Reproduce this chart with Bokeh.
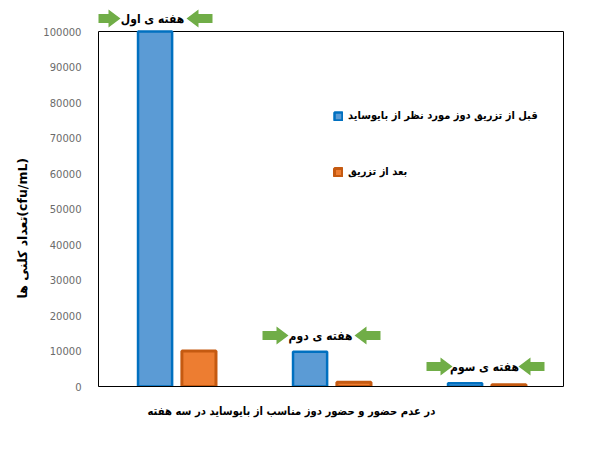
from bokeh.plotting import figure
from bokeh.models import (Range1d, FixedTicker, NumeralTickFormatter, Label, Title,
                          PolyAnnotation, Legend, LegendItem, ColumnDataSource)
from bokeh.transform import dodge
from bokeh.embed import file_html
from bokeh.resources import INLINE

# ---------------- data ----------------
weeks = ["هفته ی اول", "هفته ی دوم", "هفته ی سوم"]
before = [100000, 9800, 900]
after = [10000, 1200, 500]
series_names = ["قبل از تزریق دوز مورد نظر از بایوساید", "بعد از تزریق"]
y_ticks = [0, 10000, 20000, 30000, 40000, 50000, 60000, 70000, 80000, 90000, 100000]
y_title = "تعداد کلنی ها(cfu/mL)"
x_title = "در عدم حضور و حضور دوز مناسب از بایوساید در سه هفته"

# ---------------- layout ----------------
W, H = 605, 458
BOX_LEFT, BOX_RIGHT, BOX_TOP, BOX_BOTTOM = 98, 563, 31, 386   # chart box in pixels
FRAME_TOP, FRAME_RIGHT = 4, 580                               # frame extended for outside labels
X_MAX = len(weeks)
Y_MAX = y_ticks[-1]
PX_PER_X = (BOX_RIGHT - BOX_LEFT) / X_MAX
PX_PER_Y = (BOX_BOTTOM - BOX_TOP) / Y_MAX

def to_data(px, py):
    return (px - BOX_LEFT) / PX_PER_X, (BOX_BOTTOM - py) / PX_PER_Y

FONT = "DejaVu Sans"
FA_FONT = "DejaVu Sans Condensed"
GREEN = "#70ad47"

centers = [i + 0.5 for i in range(len(weeks))]
src = ColumnDataSource(dict(x=centers, before=before, after=after, week=weeks))

x_end = to_data(FRAME_RIGHT, 0)[0]
y_end = to_data(0, FRAME_TOP)[1]

p = figure(width=W, height=H, output_backend="svg", toolbar_location=None,
           x_range=Range1d(0, x_end), y_range=Range1d(0, y_end),
           min_border_left=BOX_LEFT, min_border_right=W - FRAME_RIGHT,
           min_border_top=FRAME_TOP, min_border_bottom=H - BOX_BOTTOM)

p.background_fill_color = "white"
p.border_fill_color = "white"
p.outline_line_color = None
p.xgrid.visible = False
p.ygrid.visible = False

# chart box
p.quad(left=0, right=X_MAX, bottom=0, top=Y_MAX, fill_color=None,
       line_color="black", line_width=1)

r1 = p.vbar(x=dodge("x", -0.135, range=p.x_range), top="before", width=0.22,
            source=src, fill_color="#5b9bd5", line_color="#0070c0", line_width=2.5)
r2 = p.vbar(x=dodge("x", 0.148, range=p.x_range), top="after", width=0.22,
            source=src, fill_color="#ed7d31", line_color="#c55a11", line_width=3)

# axes
p.yaxis.ticker = FixedTicker(ticks=y_ticks)
p.yaxis.bounds = (0, Y_MAX)
p.yaxis.formatter = NumeralTickFormatter(format="0")
p.yaxis.major_tick_line_color = None
p.yaxis.minor_tick_line_color = None
p.yaxis.axis_line_color = "black"
p.yaxis.major_label_standoff = 11
p.yaxis.major_label_text_font = FONT
p.yaxis.major_label_text_font_size = "10px"
p.yaxis.major_label_text_color = "#6b6b6b"

p.xaxis.ticker = FixedTicker(ticks=[])
p.xaxis.bounds = (0, X_MAX)
p.xaxis.major_tick_line_color = None
p.xaxis.minor_tick_line_color = None
p.xaxis.major_label_text_font_size = "0px"
p.xaxis.major_label_standoff = 0
p.xaxis.axis_line_color = "black"

# axis titles
p.add_layout(Title(text=y_title, align="left", offset=BOX_BOTTOM - 298, standoff=22,
                   text_font=FONT, text_font_style="bold", text_font_size="12.5px",
                   text_color="black"), "left")
p.add_layout(Title(text=x_title, align="left", offset=147 - BOX_LEFT, standoff=33,
                   text_font=FA_FONT, text_font_style="bold", text_font_size="11.2px",
                   text_color="black"), "below")

# week labels with green arrows
week_label_px = [(152, 18), (320, 335), (484, 366)]

def arrow(tail_px, cy, direction):
    pts = [(0, -4.5), (14, -4.5), (14, -9), (26, 0), (14, 9), (14, 4.5), (0, 4.5)]
    xs, ys = [], []
    for dx, dy in pts:
        dxp, dyp = to_data(tail_px + direction * dx, cy - dy)
        xs.append(dxp)
        ys.append(dyp)
    return PolyAnnotation(xs=xs, ys=ys, fill_color=GREEN, fill_alpha=1.0,
                          line_color=None, xs_units="data", ys_units="data")

for name, (cx, cy) in zip(weeks, week_label_px):
    lx, ly = to_data(cx, cy)
    p.add_layout(Label(x=lx, y=ly, text=name, text_align="center", text_baseline="middle",
                       text_font=FA_FONT, text_font_style="bold", text_font_size="12px",
                       text_color="black"))
    p.add_layout(arrow(cx - 58, cy, +1))
    p.add_layout(arrow(cx + 60, cy, -1))

# legend
legend = Legend(items=[LegendItem(label=series_names[0], renderers=[r1]),
                       LegendItem(label=series_names[1], renderers=[r2])],
                location=(235, 208), orientation="vertical",
                glyph_width=10, glyph_height=10, spacing=43, label_standoff=5,
                label_text_font=FA_FONT, label_text_font_style="bold",
                label_text_font_size="11px", label_text_color="black",
                border_line_color=None, background_fill_alpha=0)
p.add_layout(legend, "center")

open("out.html", "w").write(file_html(p, INLINE))
